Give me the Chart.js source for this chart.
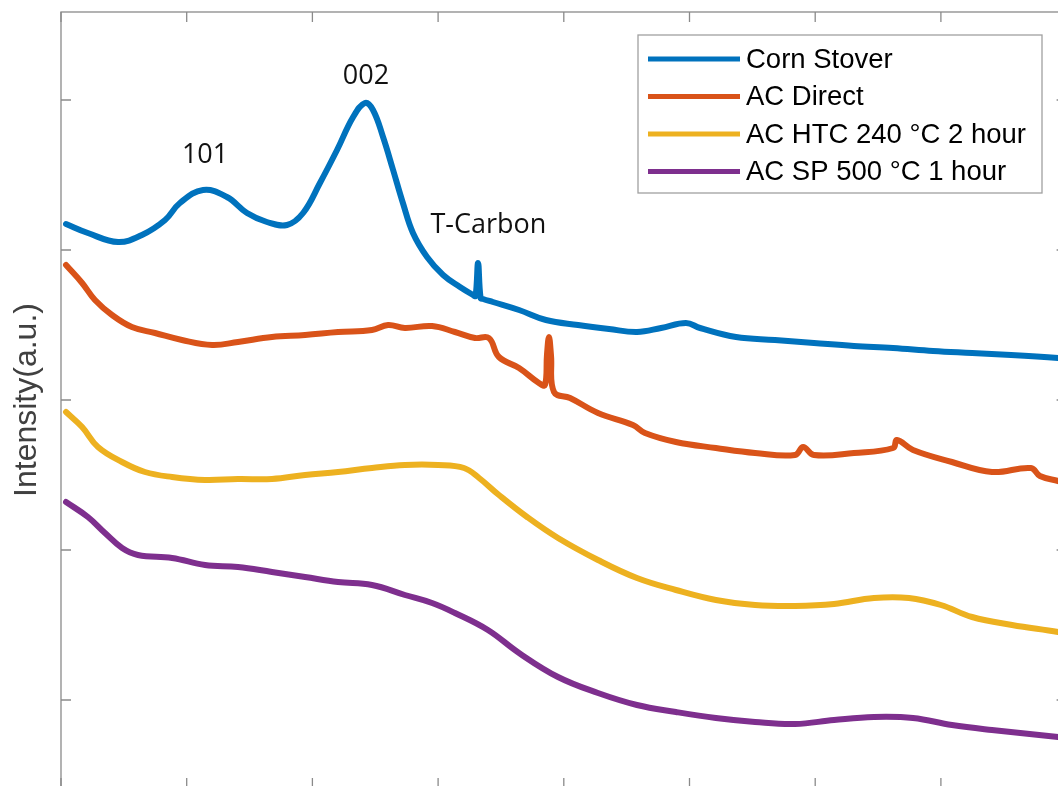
<!DOCTYPE html>
<html>
<head>
<meta charset="utf-8">
<script src="https://cdn.jsdelivr.net/npm/chart.js@4/dist/chart.umd.min.js"></script>
<style>
  html, body { margin: 0; padding: 0; background: #fff; overflow: hidden; width: 1058px; height: 786px; }
  #wrap { position: absolute; left: 0; top: 0; width: 1072px; height: 800px; }
</style>
</head>
<body>
<div id="wrap"><canvas id="xrd"></canvas></div>
<script>
// XRD patterns, 2-theta (deg) vs intensity (a.u., stacked with offsets)
const seriesNames = ['Corn Stover', 'AC Direct', 'AC HTC 240 \u00B0C 2 hour', 'AC SP 500 \u00B0C 1 hour'];
const seriesColors = ['#0072BD', '#D95319', '#EDB120', '#7E2F8E'];

const cornTheta = [10.20, 11.07, 12.27, 13.22, 14.14, 14.73, 15.65, 16.60, 17.40, 18.19, 18.99, 19.63, 20.30, 20.98,
  21.62, 22.09, 22.41, 22.81, 23.21, 23.60, 24.00, 24.56, 25.20, 25.87, 26.39, 26.49, 26.59, 26.69, 26.79, 27.18,
  28.22, 29.29, 30.57, 31.80, 32.91, 33.87, 34.86, 35.42, 36.85, 38.40, 39.95, 41.54, 43.10, 44.69, 46.24, 47.79,
  49.66, 50.00];
const cornIntensity = [576, 567, 558, 565, 580, 597, 610, 603, 587, 578, 575, 587, 617, 650,
  683, 697, 690, 663, 630, 597, 567, 543, 525, 513, 505, 504, 537, 502, 501, 498,
  490, 480, 475, 471, 468, 472, 477, 472, 463, 460, 457, 454, 452, 449, 447, 445,
  442, 441];

const directTheta = [10.20, 10.84, 11.35, 12.03, 12.82, 13.74, 14.81, 16.01, 17.04, 18.39, 19.71, 21.02, 22.37, 23.01,
  23.68, 24.76, 25.67, 26.47, 27.02, 27.42, 28.22, 29.01, 29.25, 29.33, 29.41, 29.49, 29.61, 30.25, 31.36, 32.75,
  33.23, 34.46, 36.05, 37.61, 39.20, 39.52, 39.95, 41.54, 43.10, 43.25, 43.89, 45.44, 47.03, 48.58, 48.94, 49.66,
  50.00];
const directIntensity = [535, 517, 500, 485, 473, 467, 460, 455, 458, 463, 465, 468, 470, 475,
  472, 474, 468, 462, 462, 443, 432, 417, 415, 445, 463, 445, 408, 402, 387, 375,
  367, 358, 352, 347, 345, 353, 345, 347, 352, 360, 350, 338, 328, 332, 324, 319,
  317];

const htcTheta = [10.20, 10.84, 11.47, 12.43, 13.34, 14.42, 15.73, 17.04, 18.39, 19.71, 21.02, 22.37, 23.68, 25.00,
  26.03, 26.63, 27.42, 28.54, 29.77, 31.36, 32.91, 34.46, 36.05, 37.61, 39.20, 40.75, 42.34, 43.73, 45.00, 46.24,
  47.83, 49.66, 50.00];
const htcIntensity = [388, 373, 353, 338, 328, 323, 320, 321, 321, 325, 328, 332, 335, 335,
  332, 322, 305, 283, 262, 240, 222, 210, 200, 195, 194, 196, 202, 202, 195, 183,
  175, 168, 166];

const spTheta = [10.20, 11.07, 11.75, 12.43, 13.06, 14.42, 15.73, 17.04, 18.39, 19.71, 21.02, 22.37, 23.68, 24.76,
  25.67, 26.98, 28.22, 29.77, 31.36, 32.91, 34.46, 36.05, 37.61, 39.20, 40.75, 42.34, 43.89, 45.44, 47.03, 49.66,
  50.00];
const spIntensity = [298, 283, 267, 252, 245, 242, 235, 233, 228, 223, 218, 215, 205, 197,
  187, 170, 147, 123, 107, 95, 88, 82, 78, 76, 80, 83, 82, 75, 70, 63,
  62];

// Unlabelled tick positions
const xTickValues = [10, 15, 20, 25, 30, 35, 40, 45, 50];
const yTickValues = [100, 250, 400, 550, 700];

// Peak annotations
const peakLabels = ['101', '002', 'T-Carbon'];
const peakTheta = [15.73, 22.13, 27.00];
const peakIntensity = [645, 724, 575];

const thetaSets = [cornTheta, directTheta, htcTheta, spTheta];
const intensitySets = [cornIntensity, directIntensity, htcIntensity, spIntensity];

const datasets = seriesNames.map((name, i) => ({
  label: name,
  data: thetaSets[i].map((t, j) => ({ x: t, y: intensitySets[i][j] })),
  borderColor: seriesColors[i],
  backgroundColor: seriesColors[i],
  borderWidth: 6,
  pointRadius: 0,
  fill: false,
  tension: 0.4,
  borderJoinStyle: 'round',
  borderCapStyle: 'round'
}));

// Box frame with inward tick marks on all four sides
const framePlugin = {
  id: 'frame',
  afterDatasetsDraw(chart) {
    const { ctx, chartArea: a, scales } = chart;
    const x = scales.x, y = scales.y;
    ctx.save();
    ctx.strokeStyle = '#8a8a8a';
    ctx.lineWidth = 1.3;
    ctx.strokeRect(a.left, a.top, a.right - a.left, a.bottom - a.top);
    ctx.beginPath();
    xTickValues.forEach(v => {
      const px = x.getPixelForValue(v);
      ctx.moveTo(px, a.bottom); ctx.lineTo(px, a.bottom - 10);
      ctx.moveTo(px, a.top); ctx.lineTo(px, a.top + 10);
    });
    yTickValues.forEach(v => {
      const py = y.getPixelForValue(v);
      ctx.moveTo(a.left, py); ctx.lineTo(a.left + 10, py);
      ctx.moveTo(a.right, py); ctx.lineTo(a.right - 10, py);
    });
    ctx.stroke();
    ctx.restore();
  }
};

// Peak labels placed at data coordinates
const peakLabelPlugin = {
  id: 'peakLabels',
  afterDatasetsDraw(chart) {
    const { ctx, scales } = chart;
    ctx.save();
    ctx.fillStyle = '#111';
    ctx.font = '27px "Open Sans"';
    ctx.textAlign = 'center';
    ctx.textBaseline = 'middle';
    peakLabels.forEach((txt, i) => {
      ctx.fillText(txt, scales.x.getPixelForValue(peakTheta[i]), scales.y.getPixelForValue(peakIntensity[i]));
    });
    ctx.restore();
  }
};

// Boxed legend in the upper right of the axes
const boxLegendPlugin = {
  id: 'boxLegend',
  afterDraw(chart) {
    const { ctx } = chart;
    const left = 638, top = 35, w = 404, h = 158;
    ctx.save();
    ctx.fillStyle = '#fff';
    ctx.fillRect(left, top, w, h);
    ctx.strokeStyle = '#a0a0a0';
    ctx.lineWidth = 1.3;
    ctx.strokeRect(left, top, w, h);
    chart.data.datasets.forEach((ds, i) => {
      const cy = 59 + i * 37.5;
      ctx.strokeStyle = ds.borderColor;
      ctx.lineWidth = 5;
      ctx.beginPath();
      ctx.moveTo(648, cy);
      ctx.lineTo(740, cy);
      ctx.stroke();
      ctx.fillStyle = '#000';
      ctx.font = '27.5px "Liberation Sans"';
      ctx.textAlign = 'left';
      ctx.textBaseline = 'middle';
      ctx.fillText(ds.label, 746, cy + 1);
    });
    ctx.restore();
  }
};

new Chart(document.getElementById('xrd'), {
  type: 'line',
  data: { datasets },
  options: {
    responsive: true,
    maintainAspectRatio: false,
    animation: false,
    layout: { padding: { left: 8.3, top: 12, right: 5.4, bottom: 12 } },
    plugins: { legend: { display: false }, tooltip: { enabled: false } },
    scales: {
      x: { type: 'linear', min: 10, max: 50, display: false },
      y: {
        type: 'linear', min: 12, max: 788,
        grid: { display: false, drawTicks: false },
        border: { display: false },
        ticks: { display: false },
        title: {
          display: true,
          text: 'Intensity(a.u.)',
          color: '#404040',
          font: { family: 'Liberation Sans', size: 32 },
          padding: { top: 0, bottom: 14.3 }
        }
      }
    }
  },
  plugins: [framePlugin, peakLabelPlugin, boxLegendPlugin]
});
</script>
</body>
</html>
